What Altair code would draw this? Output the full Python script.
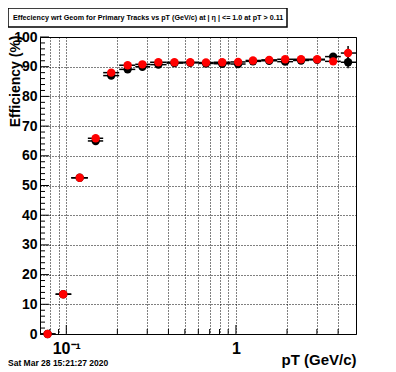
import altair as alt
import pandas as pd

# ---- data ----
pt = [0.0776, 0.096, 0.12, 0.149, 0.184, 0.230, 0.281, 0.349, 0.434, 0.538,
      0.666, 0.830, 1.03, 1.26, 1.57, 1.95, 2.42, 3.01, 3.74, 4.58]
edges = [0.07, 0.0865, 0.107, 0.134, 0.165, 0.205, 0.255, 0.312, 0.39, 0.49,
         0.60, 0.74, 0.93, 1.14, 1.41, 1.75, 2.17, 2.7, 3.35, 4.15, 5.1]
eff_red = [0, 13.4, 52.6, 65.9, 88.0, 90.5, 90.8, 91.5, 91.5, 91.5,
           91.4, 91.5, 91.6, 92.1, 92.3, 92.5, 92.5, 92.5, 91.8, 94.6]
err_red = [0, 0.6, 0.9, 0.8, 0.6, 0.5, 0.5, 0.4, 0.4, 0.4,
           0.4, 0.4, 0.4, 0.5, 0.5, 0.6, 0.7, 0.8, 1.2, 2.4]
eff_black = [0, 13.4, 52.6, 65.0, 87.0, 89.1, 90.0, 90.7, 91.2, 91.3,
             91.1, 91.0, 90.9, 91.8, 92.0, 91.7, 92.1, 92.3, 93.4, 91.5]
err_black = [0, 0.6, 0.9, 0.8, 0.6, 0.5, 0.5, 0.4, 0.4, 0.4,
             0.4, 0.4, 0.4, 0.5, 0.5, 0.6, 0.7, 0.8, 1.2, 2.0]

y_major = list(range(0, 101, 10))
y_minor = [v for v in range(0, 101, 2) if v % 10 != 0]
x_major = [0.1, 1.0]
x_minor = [0.08, 0.09, 0.2, 0.3, 0.4, 0.5, 0.6, 0.7, 0.8, 0.9, 2.0, 3.0, 4.0]
x_grid = x_minor + x_major

title_text = "Effeciency wrt Geom for Primary Tracks vs pT (GeV/c) at |  \u03b7 | <= 1.0 at pT > 0.11"
date_text = "Sat Mar 28 15:21:27 2020"

FONT = "Liberation Sans"
W, H = 316, 297

def series_df(eff, err):
    return pd.DataFrame({
        "pt": pt, "lo": edges[:-1], "hi": edges[1:],
        "eff": eff, "ylo": [e - d for e, d in zip(eff, err)],
        "yhi": [e + d for e, d in zip(eff, err)],
    })

red = series_df(eff_red, err_red)
black = series_df(eff_black, err_black)

xscale = alt.Scale(type="log", domain=[0.07, 5.1], nice=False)
yscale = alt.Scale(domain=[0, 100], nice=False, zero=False)

label_expr = ("datum.value == 1 ? '1' : (abs(datum.value - 0.1) < 1e-9 ? '10\u207b\u00b9' : '')")

xaxis = alt.Axis(values=x_grid, grid=True, gridDash=[1, 2], gridColor="black",
                 gridOpacity=1, gridWidth=1, ticks=False, domain=False,
                 labelExpr=label_expr, labelFont=FONT, labelFontSize=16,
                 labelFontWeight="bold", labelColor="black", labelPadding=6,
                 labelFlush=False, labelOverlap=False,
                 title="pT (GeV/c)", titleFont=FONT, titleFontSize=15,
                 titleFontWeight="bold", titleColor="black",
                 titleAnchor="end", titleAlign="right", titleX=W, titleY=33,
                 titleBaseline="bottom")
yaxis = alt.Axis(values=y_major, grid=True, gridDash=[1, 2], gridColor="black",
                 gridOpacity=1, gridWidth=1, ticks=False, domain=False,
                 labelFont=FONT, labelFontSize=14, labelFontWeight="bold",
                 labelColor="black", labelPadding=3, labelFlush=False,
                 labelOverlap=False, tickCount=11,
                 title="Efficiency (%)", titleFont=FONT, titleFontSize=14,
                 titleFontWeight="bold", titleColor="black",
                 titleAngle=270, titleAlign="right", titleBaseline="middle",
                 titleX=-25, titleY=-2)

def X(field):
    return alt.X(field, scale=xscale, axis=xaxis)

def Y(field):
    return alt.Y(field, scale=yscale, axis=yaxis)

ytick_major = alt.Chart(pd.DataFrame({"eff": y_major})).mark_rule(color="black", strokeWidth=1).encode(
    y=Y("eff:Q"), x=alt.value(0), x2=alt.value(9))
ytick_minor = alt.Chart(pd.DataFrame({"eff": y_minor})).mark_rule(color="black", strokeWidth=1).encode(
    y=Y("eff:Q"), x=alt.value(0), x2=alt.value(5))
xtick_major = alt.Chart(pd.DataFrame({"pt": x_major})).mark_rule(color="black", strokeWidth=1).encode(
    x=X("pt:Q"), y=alt.value(H), y2=alt.value(H - 9))
xtick_minor = alt.Chart(pd.DataFrame({"pt": x_minor})).mark_rule(color="black", strokeWidth=1).encode(
    x=X("pt:Q"), y=alt.value(H), y2=alt.value(H - 5))

def series_layers(df, color):
    xbar = alt.Chart(df).mark_rule(color="black", strokeWidth=1.5, clip=True).encode(
        x=X("lo:Q"), x2="hi:Q", y=Y("eff:Q"))
    ybar = alt.Chart(df).mark_rule(color="black", strokeWidth=1.5).encode(
        x=X("pt:Q"), y=Y("ylo:Q"), y2="yhi:Q")
    pts = alt.Chart(df).mark_circle(color=color, opacity=1, size=70).encode(
        x=X("pt:Q"), y=Y("eff:Q"))
    return [xbar, ybar, pts]

one = pd.DataFrame({"a": [0]})
title_box = alt.Chart(one).mark_rect(fill="white", stroke="black", strokeWidth=1.5).encode(
    x=alt.value(-32), x2=alt.value(247), y=alt.value(-29), y2=alt.value(-10))
title_mark = alt.Chart(one).mark_text(font=FONT, fontSize=7.2, fontWeight="bold",
                                      align="left", baseline="middle", color="black").encode(
    x=alt.value(-27), y=alt.value(-19.5), text=alt.value(title_text))
date_mark = alt.Chart(one).mark_text(font=FONT, fontSize=8.5, fontWeight="bold",
                                     align="left", baseline="bottom", color="black").encode(
    x=alt.value(-32), y=alt.value(331), text=alt.value(date_text))

layers = [ytick_major, ytick_minor, xtick_major, xtick_minor]
layers += series_layers(black, "black")
layers += series_layers(red, "#ff0000")
layers += [title_box, title_mark, date_mark]

chart = alt.layer(*layers).properties(
    width=W, height=H,
    padding={"left": 32, "top": 29, "right": 30, "bottom": 34},
    autosize=alt.AutoSizeParams(type="none"),
    background="white",
).configure_view(stroke="black", strokeWidth=1)

chart.save("out.html", embed_options={"renderer": "svg", "actions": False})
